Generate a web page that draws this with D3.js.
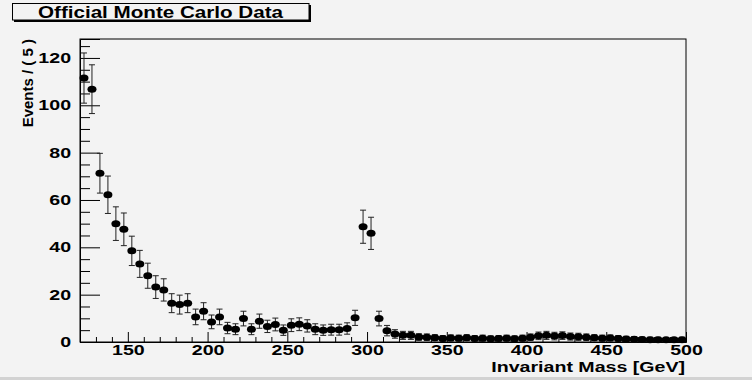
<!DOCTYPE html>
<html>
<head>
<meta charset="utf-8">
<script src="https://cdn.jsdelivr.net/npm/d3@7"></script>
<style>
  html, body { margin: 0; padding: 0; background: #f3f3f3; }
  svg { display: block; }
  text { font-family: "Liberation Sans", Arial, sans-serif; font-weight: bold; fill: #000; }
</style>
</head>
<body>
<svg id="chart" width="752" height="380"></svg>
<script>
// ---- data ----
const binCenters = [
  122.5,127.5,132.5,137.5,142.5,147.5,152.5,157.5,162.5,167.5,
  172.5,177.5,182.5,187.5,192.5,197.5,202.5,207.5,212.5,217.5,
  222.5,227.5,232.5,237.5,242.5,247.5,252.5,257.5,262.5,267.5,
  272.5,277.5,282.5,287.5,292.5,297.5,302.5,307.5,312.5,317.5,
  322.5,327.5,332.5,337.5,342.5,347.5,352.5,357.5,362.5,367.5,
  372.5,377.5,382.5,387.5,392.5,397.5,402.5,407.5,412.5,417.5,
  422.5,427.5,432.5,437.5,442.5,447.5,452.5,457.5,462.5,467.5,
  472.5,477.5,482.5,487.5,492.5,497.5
];
const events = [
  111.5,106.8,71.3,62.2,50.0,47.6,38.5,33.0,28.0,23.2,
  22.0,16.4,15.8,16.4,10.6,13.0,8.5,10.6,5.9,5.4,
  9.9,5.4,8.8,6.6,7.4,5.0,7.1,7.5,6.8,5.4,
  5.0,5.2,5.2,5.7,10.2,48.7,45.9,9.9,4.8,3.4,
  2.8,2.8,2.1,2.0,1.8,1.5,1.7,1.6,1.8,1.5,
  1.6,1.4,1.5,1.6,1.4,1.6,2.0,2.6,2.8,2.5,
  2.7,2.3,2.2,2.0,1.8,1.6,1.7,1.5,1.3,1.2,
  1.1,1.0,1.0,0.9,0.9,1.0
];
const errors = [
  10.6,10.3,8.4,7.9,7.1,6.9,6.2,5.7,5.3,4.8,
  4.7,4.0,4.0,4.0,3.3,3.6,2.9,3.3,2.4,2.3,
  3.1,2.3,3.0,2.6,2.7,2.2,2.7,2.7,2.6,2.3,
  2.2,2.3,2.3,2.4,3.2,7.0,6.8,3.1,2.2,1.8,
  1.7,1.7,1.4,1.4,1.3,1.2,1.3,1.3,1.3,1.2,
  1.3,1.2,1.2,1.3,1.2,1.3,1.4,1.6,1.7,1.6,
  1.6,1.5,1.5,1.4,1.3,1.3,1.3,1.2,1.1,1.1,
  1.0,1.0,1.0,0.9,0.9,1.0
];
const xMajorTicks = [150,200,250,300,350,400,450,500];
const xMinorTicks = [130,140,160,170,180,190,210,220,230,240,260,270,280,290,310,320,330,340,360,370,380,390,410,420,430,440,460,470,480,490];
const yMajorTicks = [0,20,40,60,80,100,120];
const yMinorTicks = [5,10,15,25,30,35,45,50,55,65,70,75,85,90,95,105,110,115,125];
const titleText = "Official Monte Carlo Data";
const xTitle = "Invariant Mass [GeV]";
const yTitle = "Events / ( 5 )";

// ---- layout ----
const svg = d3.select("#chart");
const L = 80, R = 686, T = 39, B = 342;
const x = d3.scaleLinear().domain([120, 500]).range([L, R]);
const y = d3.scaleLinear().domain([0, 128]).range([B, T]);

// background
svg.append("rect").attr("x",0).attr("y",0).attr("width",752).attr("height",380).attr("fill","#f3f3f3");
svg.append("rect").attr("x",0).attr("y",377).attr("width",752).attr("height",3).attr("fill","#d2d2d2");

// frame
svg.append("rect").attr("x",L).attr("y",T).attr("width",R-L).attr("height",B-T)
  .attr("fill","none").attr("stroke","#000").attr("stroke-width",1);

// axes
const gx = svg.append("g").attr("transform",`translate(0,${B})`)
  .call(d3.axisBottom(x).tickValues(xMajorTicks).tickSize(-10).tickPadding(3).tickFormat(d3.format("d")));
const gxm = svg.append("g").attr("transform",`translate(0,${B})`)
  .call(d3.axisBottom(x).tickValues(xMinorTicks).tickSize(-5).tickFormat(""));
const gy = svg.append("g").attr("transform",`translate(${L},0)`)
  .call(d3.axisLeft(y).tickValues(yMajorTicks).tickSize(-20).tickPadding(6.4).tickFormat(d3.format("d")));
const gym = svg.append("g").attr("transform",`translate(${L},0)`)
  .call(d3.axisLeft(y).tickValues(yMinorTicks).tickSize(-10).tickFormat(""));
gxm.select(".domain").remove();
gym.select(".domain").remove();
[gx,gxm,gy,gym].forEach(g => {
  g.selectAll(".domain").attr("stroke","#000");
  g.selectAll(".tick line").attr("stroke","#000").attr("stroke-width",1);
});
[gx, gy].forEach(g => {
  g.selectAll(".tick text")
    .style("font-family","'Liberation Sans', Arial, sans-serif")
    .style("font-weight","bold")
    .style("font-size","14px")
    .attr("fill","#000")
    .attr("transform","scale(1.4,1)");
});

// data points with error bars
const pts = svg.append("g");
const data = binCenters.map((c,i) => ({c, v: events[i], e: errors[i]}));
pts.selectAll("line.err").data(data).join("line").attr("class","err")
  .attr("x1", d => x(d.c)).attr("x2", d => x(d.c))
  .attr("y1", d => y(d.v + d.e)).attr("y2", d => y(Math.max(0, d.v - d.e)))
  .attr("stroke","#222").attr("stroke-width",1);
pts.selectAll("line.capt").data(data).join("line").attr("class","capt")
  .attr("x1", d => x(d.c) - 3).attr("x2", d => x(d.c) + 3)
  .attr("y1", d => y(d.v + d.e)).attr("y2", d => y(d.v + d.e))
  .attr("stroke","#222").attr("stroke-width",1);
pts.selectAll("line.capb").data(data).join("line").attr("class","capb")
  .attr("x1", d => x(d.c) - 3).attr("x2", d => x(d.c) + 3)
  .attr("y1", d => y(Math.max(0, d.v - d.e))).attr("y2", d => y(Math.max(0, d.v - d.e)))
  .attr("stroke","#222").attr("stroke-width",1);
pts.selectAll("ellipse").data(data).join("ellipse")
  .attr("cx", d => x(d.c)).attr("cy", d => y(d.v))
  .attr("rx", 4.5).attr("ry", 3.5).attr("fill","#000");

// axis titles
svg.append("text").attr("transform","translate(685,372) scale(1.4,1)")
  .attr("text-anchor","end").style("font-size","14px").text(xTitle);
svg.append("text").attr("transform","translate(33,39) rotate(-90)")
  .attr("text-anchor","end").style("font-size","15px").text(yTitle);

// title box
svg.append("line").attr("x1",14).attr("x2",311).attr("y1",21).attr("y2",21).attr("stroke","#000").attr("stroke-width",2);
svg.append("line").attr("x1",310).attr("x2",310).attr("y1",5).attr("y2",22).attr("stroke","#000").attr("stroke-width",2);
svg.append("rect").attr("x",12.5).attr("y",3.5).attr("width",296.5).attr("height",16.5)
  .attr("fill","#f3f3f3").attr("stroke","#000").attr("stroke-width",1);
svg.append("text").attr("transform","translate(160.5,17.5) scale(1.25,1)")
  .attr("text-anchor","middle").style("font-size","16.5px").text(titleText);
</script>
</body>
</html>
